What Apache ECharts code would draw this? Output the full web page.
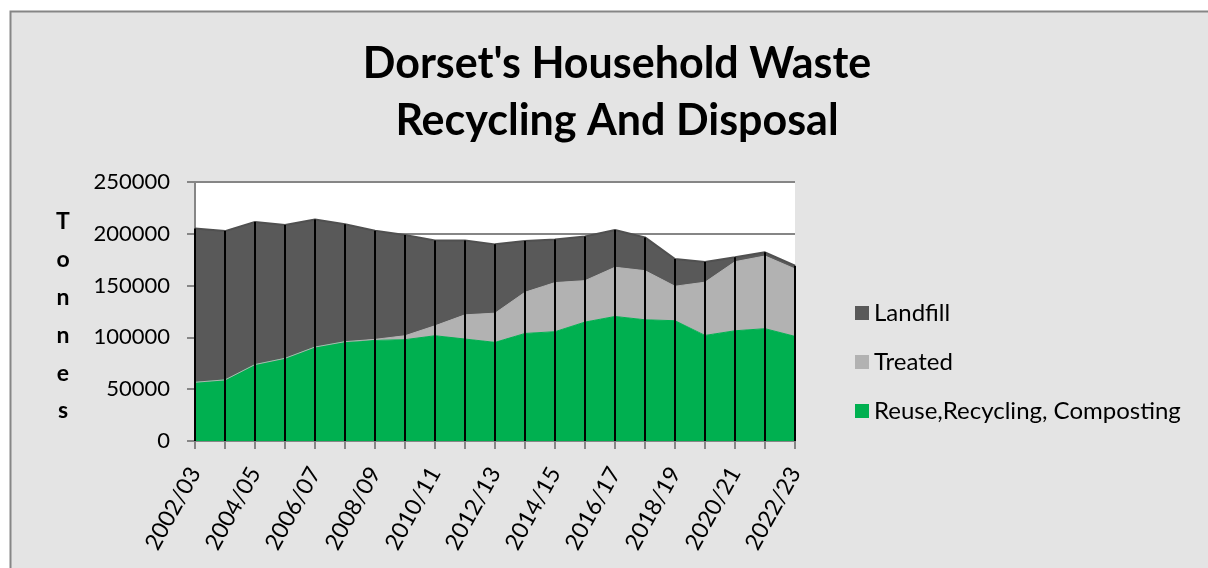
<!DOCTYPE html>
<html>
<head>
<meta charset="utf-8">
<script src="https://cdn.jsdelivr.net/npm/echarts@6/dist/echarts.min.js"></script>
<style>
html, body { margin: 0; padding: 0; background: #fff; }
#plot { width: 1208px; height: 568px; }
</style>
</head>
<body>
<div id="plot"></div>
<script>
var years = ['2002/03','2003/04','2004/05','2005/06','2006/07','2007/08','2008/09','2009/10','2010/11','2011/12',
	'2012/13','2013/14','2014/15','2015/16','2016/17','2017/18','2018/19','2019/20','2020/21','2021/22','2022/23'];
var recycling = [56700, 59000, 73800, 79800, 90700, 95900, 97100, 97800, 101600, 98400,
	95200, 103800, 105500, 114800, 120200, 117000, 116100, 101900, 106400, 108400, 101000];
var treated = [0, 0, 0, 0, 0, 0, 1000, 3800, 9600, 23400,
	28200, 39800, 47400, 40000, 47500, 47400, 33300, 51400, 66700, 70200, 65100];
var landfill = [148500, 143600, 137700, 128600, 123100, 113400, 104800, 97200, 82400, 71800,
	66400, 49400, 41700, 42700, 35900, 32100, 26300, 19500, 4200, 3500, 3100];

function initChart (element) {
	var totals = [];
	for (var i = 0; i < years.length; i++)
		totals.push(recycling[i] + treated[i] + landfill[i]);

	var font = 'Lato';
	var option = {
		backgroundColor: '#fff',
		graphic: [{
			type: 'rect',
			shape: { x: 10.5, y: 11.5, width: 1300, height: 700 },
			style: { fill: '#e4e4e4', stroke: '#868686', lineWidth: 2 },
			z: -10,
			silent: true
		}, {
			// vertical "Tonnes" axis title, one letter per line
			type: 'text',
			x: 63,
			y: 203,
			style: {
				text: 'T\no\nn\nn\ne\ns',
				fontFamily: font,
				fontWeight: 'bold',
				fontSize: 23,
				lineHeight: 37.8,
				align: 'center',
				fill: '#000'
			},
			silent: true
		}],
		title: {
			text: "Dorset's Household Waste\nRecycling And Disposal",
			left: 612,
			textAlign: 'center',
			top: 31,
			textStyle: {
				fontFamily: font,
				fontWeight: 'bold',
				fontSize: 43,
				lineHeight: 57,
				color: '#000'
			}
		},
		legend: {
			data: ['Landfill', 'Treated', 'Reuse,Recycling, Composting'],
			orient: 'vertical',
			left: 850,
			top: 296,
			itemWidth: 14,
			itemHeight: 14,
			itemGap: 25,
			icon: 'rect',
			textStyle: { fontFamily: font, fontSize: 24, color: '#000' }
		},
		grid: {
			left: 195,
			right: 413,
			top: 182,
			bottom: 127,
			show: true,
			backgroundColor: '#fff',
			borderWidth: 0
		},
		xAxis: {
			type: 'category',
			data: years,
			boundaryGap: false,
			axisLine: { lineStyle: { color: '#868686', width: 2 } },
			axisTick: { show: true, length: 8, interval: 0, lineStyle: { color: '#868686', width: 2 } },
			axisLabel: {
				interval: 1,
				rotate: 61,
				margin: 28,
				fontFamily: font,
				fontSize: 23,
				color: '#000'
			}
		},
		yAxis: {
			type: 'value',
			min: 0,
			max: 250000,
			interval: 50000,
			axisLine: { show: true, lineStyle: { color: '#868686', width: 2 } },
			axisTick: { show: true, length: 8, lineStyle: { color: '#868686', width: 2 } },
			axisLabel: {
				fontFamily: font,
				fontSize: 22,
				color: '#000',
				margin: 25,
				formatter: function (v) { return String(v); }
			},
			splitLine: { lineStyle: { color: '#868686', width: 2 } }
		},
		series: [
			{
				name: 'Reuse,Recycling, Composting',
				type: 'line',
				stack: 'waste',
				data: recycling,
				symbol: 'none',
				lineStyle: { color: '#00b050', width: 1 },
				itemStyle: { color: '#00b050' },
				areaStyle: { color: '#00b050', opacity: 1 }
			},
			{
				name: 'Treated',
				type: 'line',
				stack: 'waste',
				data: treated,
				symbol: 'none',
				lineStyle: { color: '#b2b2b2', width: 1 },
				itemStyle: { color: '#b2b2b2' },
				areaStyle: { color: '#b2b2b2', opacity: 1 }
			},
			{
				name: 'Landfill',
				type: 'line',
				stack: 'waste',
				data: landfill,
				symbol: 'none',
				lineStyle: { color: '#505050', width: 2 },
				itemStyle: { color: '#595959' },
				areaStyle: { color: '#595959', opacity: 1 }
			},
			{
				// drop lines from the stack top down to the axis
				name: 'drop',
				type: 'bar',
				data: totals,
				barWidth: 2,
				itemStyle: { color: '#000' },
				z: 5,
				silent: true
			}
		],
		animation: false
	};

	var myChart = echarts.init(document.getElementById(element));
	myChart.setOption(option);
}
initChart('plot');
</script>
</body>
</html>
